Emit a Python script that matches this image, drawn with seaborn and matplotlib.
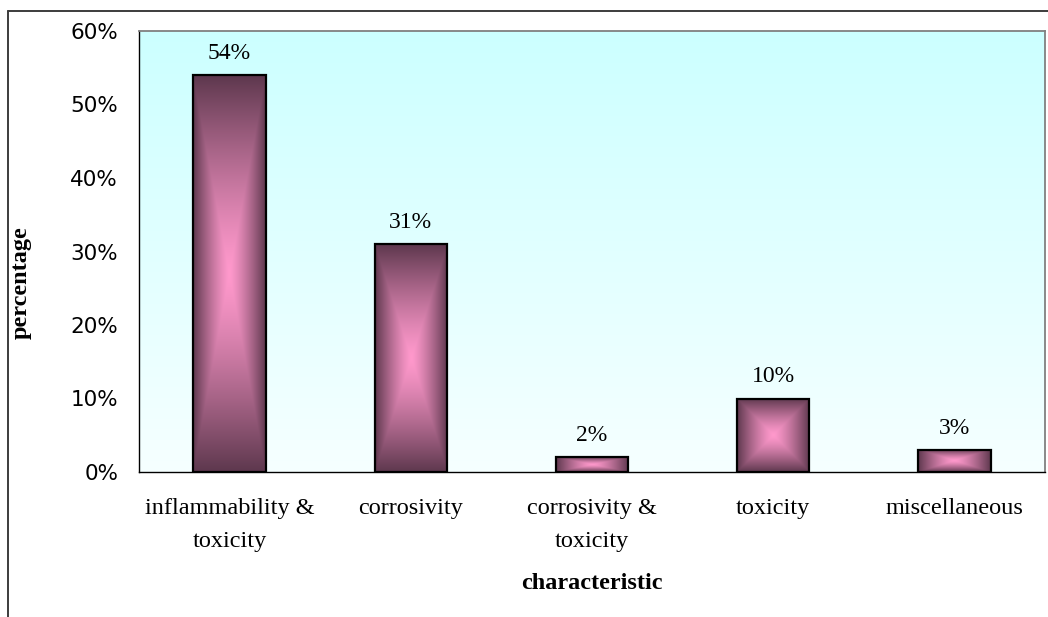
import numpy as np
import matplotlib
matplotlib.use("Agg")
import matplotlib.pyplot as plt
from matplotlib.lines import Line2D
from matplotlib.ticker import FuncFormatter, FixedLocator
import seaborn as sns

# --- data ---
categories = ["inflammability & toxicity", "corrosivity", "corrosivity & toxicity",
              "toxicity", "miscellaneous"]
tick_labels = ["inflammability &\ntoxicity", "corrosivity", "corrosivity &\ntoxicity",
               "toxicity", "miscellaneous"]
percentages = [54, 31, 2, 10, 3]
y_ticks = [0, 10, 20, 30, 40, 50, 60]

sns.set_style("white")
plt.rcParams['font.family'] = ['Liberation Serif', 'DejaVu Serif']
plt.rcParams['text.color'] = 'black'
plt.rcParams['axes.labelcolor'] = 'black'
plt.rcParams['xtick.color'] = 'black'
plt.rcParams['ytick.color'] = 'black'

fig = plt.figure(figsize=(10.48, 6.17), dpi=100)
ax = fig.add_axes([139 / 1048, 1 - 472 / 617, 906 / 1048, 441 / 617])

sns.barplot(x=categories, y=percentages, width=0.4, color="#c06090", ax=ax,
            saturation=1, zorder=2)

# background: vertical gradient, light cyan at top fading to near white
top_col = np.array([204, 255, 255]) / 255
bot_col = np.array([246, 255, 255]) / 255
ramp = np.linspace(0, 1, 256)[:, None]
bg = top_col * (1 - ramp[..., None]) + bot_col * ramp[..., None]
bg = np.repeat(bg, 2, axis=1)
ax.imshow(bg, extent=(0, 1, 0, 1), transform=ax.transAxes, aspect="auto",
          interpolation="bilinear", zorder=0)

# bars: rectangular "from center" gradient, pink in the middle, dark mauve at edges
center_col = np.array([255, 153, 204]) / 255
edge_col = np.array([94, 56, 78]) / 255
n = 200
u = np.linspace(-1, 1, n)
uu, vv = np.meshgrid(u, u)
t = (np.maximum(np.abs(uu), np.abs(vv)) ** 1.3)[..., None]
bar_img = center_col * (1 - t) + edge_col * t

for patch in ax.patches:
    x0, y0 = patch.get_x(), patch.get_y()
    w, h = patch.get_width(), patch.get_height()
    ax.imshow(bar_img, extent=(x0, x0 + w, y0, y0 + h), aspect="auto",
              interpolation="bilinear", zorder=2)
    patch.set_facecolor("none")
    patch.set_edgecolor("black")
    patch.set_linewidth(1.6)
    patch.set_zorder(3)

# value labels above bars
for patch, val in zip(ax.patches, percentages):
    ax.annotate(f"{val}%", (patch.get_x() + patch.get_width() / 2, patch.get_height()),
                xytext=(0, 15.5), textcoords="offset points", ha="center", va="center",
                fontsize=17)

ax.set_xlim(-0.5, len(categories) - 0.5)
ax.set_ylim(0, 60)

# y axis
ax.yaxis.set_major_locator(FixedLocator(y_ticks))
ax.yaxis.set_major_formatter(FuncFormatter(lambda v, p: f"{v:.0f}%"))
ax.tick_params(axis="y", which="major", direction="out", length=6, width=1,
               color="black", pad=9, labelsize=15.5)
for lab in ax.get_yticklabels():
    lab.set_fontfamily("DejaVu Sans")

# x axis: ticks at category boundaries, labels centered on categories
ax.xaxis.set_major_locator(FixedLocator(np.arange(-0.5, len(categories), 1.0)))
ax.xaxis.set_minor_locator(FixedLocator(np.arange(len(categories))))
ax.set_xticklabels([], minor=False)
ax.set_xticks(np.arange(len(categories)), tick_labels, minor=True,
              fontsize=17.5, linespacing=1.7)
ax.tick_params(axis="x", which="major", direction="out", length=7, width=1,
               color="black", labelbottom=False)
ax.tick_params(axis="x", which="minor", length=0, pad=19)

ax.set_ylabel("percentage", fontsize=17.5, fontweight="bold")
ax.yaxis.set_label_coords(-0.118, 0.43)
ax.set_xlabel("characteristic", fontsize=17.5, fontweight="bold")
ax.xaxis.set_label_coords(0.5, -0.252)
ax.xaxis.label.set_va("center")

# plot area border
for side in ["top", "right"]:
    ax.spines[side].set_color("#808080")
    ax.spines[side].set_linewidth(1.3)
for side in ["left", "bottom"]:
    ax.spines[side].set_color("black")
    ax.spines[side].set_linewidth(1.0)

# outer chart frame (cut off at right and bottom in the original)
fx = 8 / 1048
fy = 1 - 11 / 617
fig.add_artist(Line2D([fx, fx], [0, fy], transform=fig.transFigure, color="#3c3c3c", lw=1.4))
fig.add_artist(Line2D([fx, 1], [fy, fy], transform=fig.transFigure, color="#3c3c3c", lw=1.4))

fig.savefig("out.png", dpi=100)
